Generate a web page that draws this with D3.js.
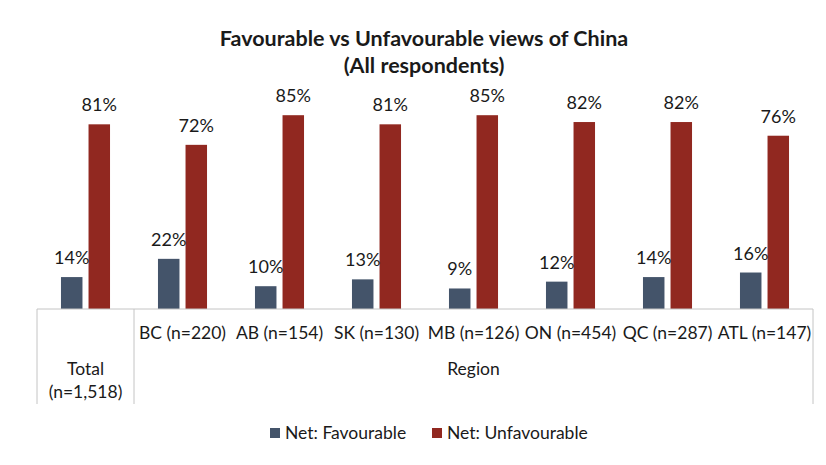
<!DOCTYPE html>
<html>
<head>
<meta charset="utf-8">
<script src="https://cdn.jsdelivr.net/npm/d3@7"></script>
<style>
  body { margin: 0; background: #fff; }
  text { font-family: Lato, "Open Sans", sans-serif; fill: #1a1a1a; }
</style>
</head>
<body>
<div id="chart-area"></div>
<script>
const categories = ["Total", "BC (n=220)", "AB (n=154)", "SK (n=130)", "MB (n=126)", "ON (n=454)", "QC (n=287)", "ATL (n=147)"]
const favourable = [14, 22, 10, 13, 9, 12, 14, 16]
const unfavourable = [81, 72, 85, 81, 85, 82, 82, 76]
const seriesNames = ["Net: Favourable", "Net: Unfavourable"]
const colours = ["#44546a", "#912820"]

const width = 826, height = 465
const plot = { left: 37, right: 813, top: 81, base: 309, bottom: 404 }

const svg = d3.select("#chart-area").append("svg")
	.attr("width", width)
	.attr("height", height)

svg.append("text")
	.attr("x", 424).attr("y", 46)
	.attr("text-anchor", "middle")
	.attr("font-size", "21.5px").attr("font-weight", "bold")
	.text("Favourable vs Unfavourable views of China")
svg.append("text")
	.attr("x", 424).attr("y", 73)
	.attr("text-anchor", "middle")
	.attr("font-size", "21.5px").attr("font-weight", "bold")
	.text("(All respondents)")

const x = d3.scaleBand()
	.domain(categories)
	.range([plot.left, plot.right])

const xs = d3.scaleBand()
	.domain(seriesNames)
	.range([0, x.bandwidth()])
	.paddingInner(0.22)
	.paddingOuter(0.87)

const y = d3.scaleLinear()
	.domain([0, 100])
	.range([plot.base, plot.top])

const colour = d3.scaleOrdinal().domain(seriesNames).range(colours)

const rows = categories.map((c, i) => ({ cat: c, values: [favourable[i], unfavourable[i]] }))

const groups = svg.selectAll(".group")
	.data(rows)
	.enter().append("g")
	.attr("class", "group")
	.attr("transform", d => `translate(${x(d.cat)},0)`)

groups.selectAll("rect")
	.data(d => d.values.map((v, j) => ({ key: seriesNames[j], v })))
	.enter().append("rect")
	.attr("x", d => xs(d.key))
	.attr("width", xs.bandwidth())
	.attr("y", d => y(d.v))
	.attr("height", d => y(0) - y(d.v))
	.attr("fill", d => colour(d.key))

groups.selectAll(".val")
	.data(d => d.values.map((v, j) => ({ key: seriesNames[j], v })))
	.enter().append("text")
	.attr("class", "val")
	.attr("x", d => xs(d.key) + xs.bandwidth() / 2)
	.attr("y", d => y(d.v) - 13)
	.attr("text-anchor", "middle")
	.attr("font-size", "18px")
	.text(d => d.v + "%")

// axis line and category table lines
const lineCol = "#c4c4c4"
svg.append("line")
	.attr("x1", plot.left).attr("x2", plot.right)
	.attr("y1", plot.base).attr("y2", plot.base)
	.attr("stroke", lineCol)
const dividers = [plot.left, x(categories[1]), plot.right]
svg.selectAll(".divider")
	.data(dividers)
	.enter().append("line")
	.attr("class", "divider")
	.attr("x1", d => d).attr("x2", d => d)
	.attr("y1", plot.base).attr("y2", plot.bottom)
	.attr("stroke", lineCol)

// category labels
const labelSize = "17.5px"
svg.selectAll(".cat")
	.data(categories.slice(1))
	.enter().append("text")
	.attr("class", "cat")
	.attr("x", d => x(d) + x.bandwidth() / 2)
	.attr("y", 339)
	.attr("text-anchor", "middle")
	.attr("font-size", labelSize)
	.text(d => d)

const totalLabel = svg.append("text")
	.attr("x", x(categories[0]) + x.bandwidth() / 2)
	.attr("text-anchor", "middle")
	.attr("font-size", labelSize)
totalLabel.append("tspan").attr("x", x(categories[0]) + x.bandwidth() / 2).attr("y", 375).text("Total")
totalLabel.append("tspan").attr("x", x(categories[0]) + x.bandwidth() / 2).attr("y", 398).text("(n=1,518)")

svg.append("text")
	.attr("x", (x(categories[1]) + plot.right) / 2)
	.attr("y", 375)
	.attr("text-anchor", "middle")
	.attr("font-size", labelSize)
	.text("Region")

// legend
const legendX = [270, 432]
const legend = svg.selectAll(".legend")
	.data(seriesNames)
	.enter().append("g")
	.attr("class", "legend")
	.attr("transform", (d, i) => `translate(${legendX[i]},428)`)
legend.append("rect")
	.attr("width", 10).attr("height", 10)
	.attr("fill", d => colour(d))
legend.append("text")
	.attr("x", 15).attr("y", 10.5)
	.attr("font-size", labelSize)
	.text(d => d)
</script>
</body>
</html>
